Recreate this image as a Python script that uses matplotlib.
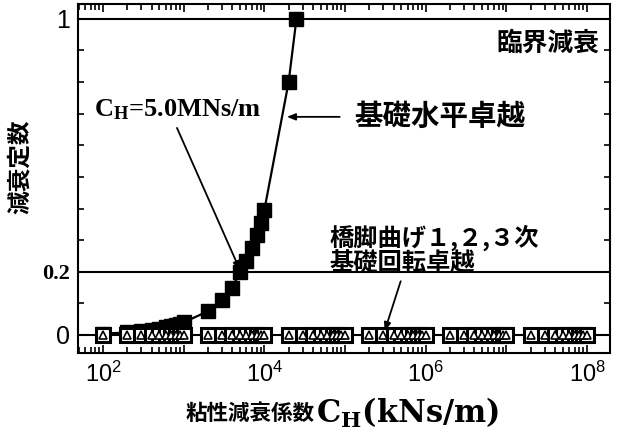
import matplotlib
matplotlib.use("Agg")
import matplotlib.pyplot as plt
from matplotlib.ticker import FixedLocator, LogLocator, NullFormatter, FixedFormatter

plt.rcParams['mathtext.fontset'] = 'custom'
plt.rcParams['mathtext.rm'] = 'Liberation Serif:bold'
plt.rcParams['mathtext.it'] = 'Liberation Serif:bold'
plt.rcParams['mathtext.bf'] = 'DejaVu Serif:bold'
plt.rcParams['mathtext.sf'] = 'Liberation Sans'

# ---- data ----
# horizontal foundation mode (filled squares)
ch_horizontal = [100, 200, 300, 400, 500, 600, 700, 800, 900, 1000,
                 2000, 3000, 4000, 5000, 6000, 7000, 8000, 9000, 10000,
                 20000, 25000]
zeta_horizontal = [0.004, 0.008, 0.012, 0.016, 0.020, 0.024, 0.028, 0.032, 0.036, 0.040,
                   0.075, 0.11, 0.15, 0.20, 0.235, 0.275, 0.315, 0.355, 0.395,
                   0.80, 1.00]

# pier bending 1,2,3 / foundation rotation modes (open markers at ~0)
ch_other = [100,
            200, 300, 400, 500, 600, 700, 800, 900, 1000,
            2000, 3000, 4000, 5000, 6000, 7000, 8000, 9000, 10000,
            20000, 30000, 40000, 50000, 60000, 70000, 80000, 90000, 100000,
            2e5, 3e5, 4e5, 5e5, 6e5, 7e5, 8e5, 9e5, 1e6,
            2e6, 3e6, 4e6, 5e6, 6e6, 7e6, 8e6, 9e6, 1e7,
            2e7, 3e7, 4e7, 5e7, 6e7, 7e7, 8e7, 9e7, 1e8]
zeta_other = [0.0] * len(ch_other)

ref_levels = [0.0, 0.2, 1.0]
xtick_vals = [1e2, 1e3, 1e4, 1e5, 1e6, 1e7, 1e8]
xtick_labels = [r'$\mathsf{10^{2}}$', '', r'$\mathsf{10^{4}}$', '', r'$\mathsf{10^{6}}$', '', r'$\mathsf{10^{8}}$']
ytick_vals = [0.0, 0.2, 1.0]
ytick_labels = ['0', '0.2', '1']

fig = plt.figure(figsize=(6.18, 4.36), dpi=100)
ax = fig.add_axes([78/618, 1-353/436, (610-78)/618, (353-4)/436])
ax.set_xscale('log')
ax.set_xlim(10**1.69, 10**8.285)
ax.set_ylim(-0.057, 1.047)

for lv in ref_levels:
    ax.axhline(lv, color='black', lw=1.5, zorder=1)

ax.plot(ch_horizontal, zeta_horizontal, color='black', lw=1.6, marker='s',
        ms=10, mfc='black', mec='black', zorder=3)
ax.plot(ch_other, zeta_other, color='black', lw=1.5, ls='none', marker='s',
        ms=10.5, mfc='white', mec='black', mew=2.2, zorder=4)
ax.plot(ch_other, zeta_other, color='black', ls='none', marker='^',
        ms=5.5, mfc='white', mec='black', mew=1.2, zorder=5)

# ticks
ax.xaxis.set_major_locator(FixedLocator(xtick_vals))
ax.xaxis.set_major_formatter(FixedFormatter(xtick_labels))
ax.xaxis.set_minor_locator(LogLocator(base=10, subs=range(2, 10), numticks=20))
ax.xaxis.set_minor_formatter(NullFormatter())
ax.yaxis.set_major_locator(FixedLocator(ytick_vals))
ax.yaxis.set_major_formatter(FixedFormatter(ytick_labels))
ax.yaxis.set_minor_locator(FixedLocator([0.1, 0.3, 0.4, 0.5, 0.6, 0.7, 0.8, 0.9]))
ax.tick_params(which='both', direction='in', top=True, right=True, width=1.2)
ax.tick_params(which='major', length=6, labelsize=17, pad=6)
ax.tick_params(which='minor', length=4)
for lab in ax.get_yticklabels():
    if lab.get_text() == '0.2':
        lab.set_fontfamily('Liberation Serif')
        lab.set_fontweight('bold')
        lab.set_fontsize(16)
    else:
        lab.set_fontfamily('Liberation Sans')
        lab.set_fontsize(18)
for sp in ax.spines.values():
    sp.set_linewidth(1.5)

cjk = ['Noto Sans CJK JP', 'DejaVu Sans']

# annotations
ax.text(1.44e8, 0.924, '臨界減衰', family=cjk, fontsize=18.5, fontweight='bold',
        ha='right', va='center')
ax.text(77, 0.712, r'$\mathrm{C_H}$=5.0MNs/m', family='Liberation Serif',
        fontweight='bold', fontsize=19, ha='left', va='center')
ax.annotate('', xy=(5000, 0.205), xytext=(826, 0.655),
            arrowprops=dict(arrowstyle='-|>,head_length=0.5,head_width=0.2',
                            color='black', lw=1.3, shrinkA=0, shrinkB=0))
ax.text(1.29e5, 0.69, '基礎水平卓越', family=cjk, fontsize=20.5, fontweight='bold',
        ha='left', va='center')
ax.annotate('', xy=(1.9e4, 0.69), xytext=(8.6e4, 0.69),
            arrowprops=dict(arrowstyle='-|>,head_length=0.5,head_width=0.2',
                            color='black', lw=1.3, shrinkA=0, shrinkB=0))
ax.text(6.5e4, 0.307, '橋脚曲げ１,２,３次', family=cjk, fontsize=17.5, fontweight='bold',
        ha='left', va='center')
ax.text(6.5e4, 0.225, '基礎回転卓越', family=cjk, fontsize=17.5, fontweight='bold',
        ha='left', va='center')
ax.annotate('', xy=(3.1e5, 0.012), xytext=(4.9e5, 0.17),
            arrowprops=dict(arrowstyle='-|>,head_length=0.5,head_width=0.2',
                            color='black', lw=1.3, shrinkA=0, shrinkB=0))

# axis labels
fig.text(20/618, 1-167/436, '減衰定数', family=cjk, fontsize=17, fontweight='bold',
         rotation=90, ha='center', va='center')
fig.text(315/618, 1-413/436, '粘性減衰係数', family=cjk, fontsize=15.5, fontweight='bold',
         ha='right', va='center')
fig.text(316/618, 1-413/436, r'$\mathbf{C_H}$(kNs/m)', family='DejaVu Serif',
         fontweight='bold', fontsize=22, ha='left', va='center')

fig.savefig('out.png', dpi=100)
